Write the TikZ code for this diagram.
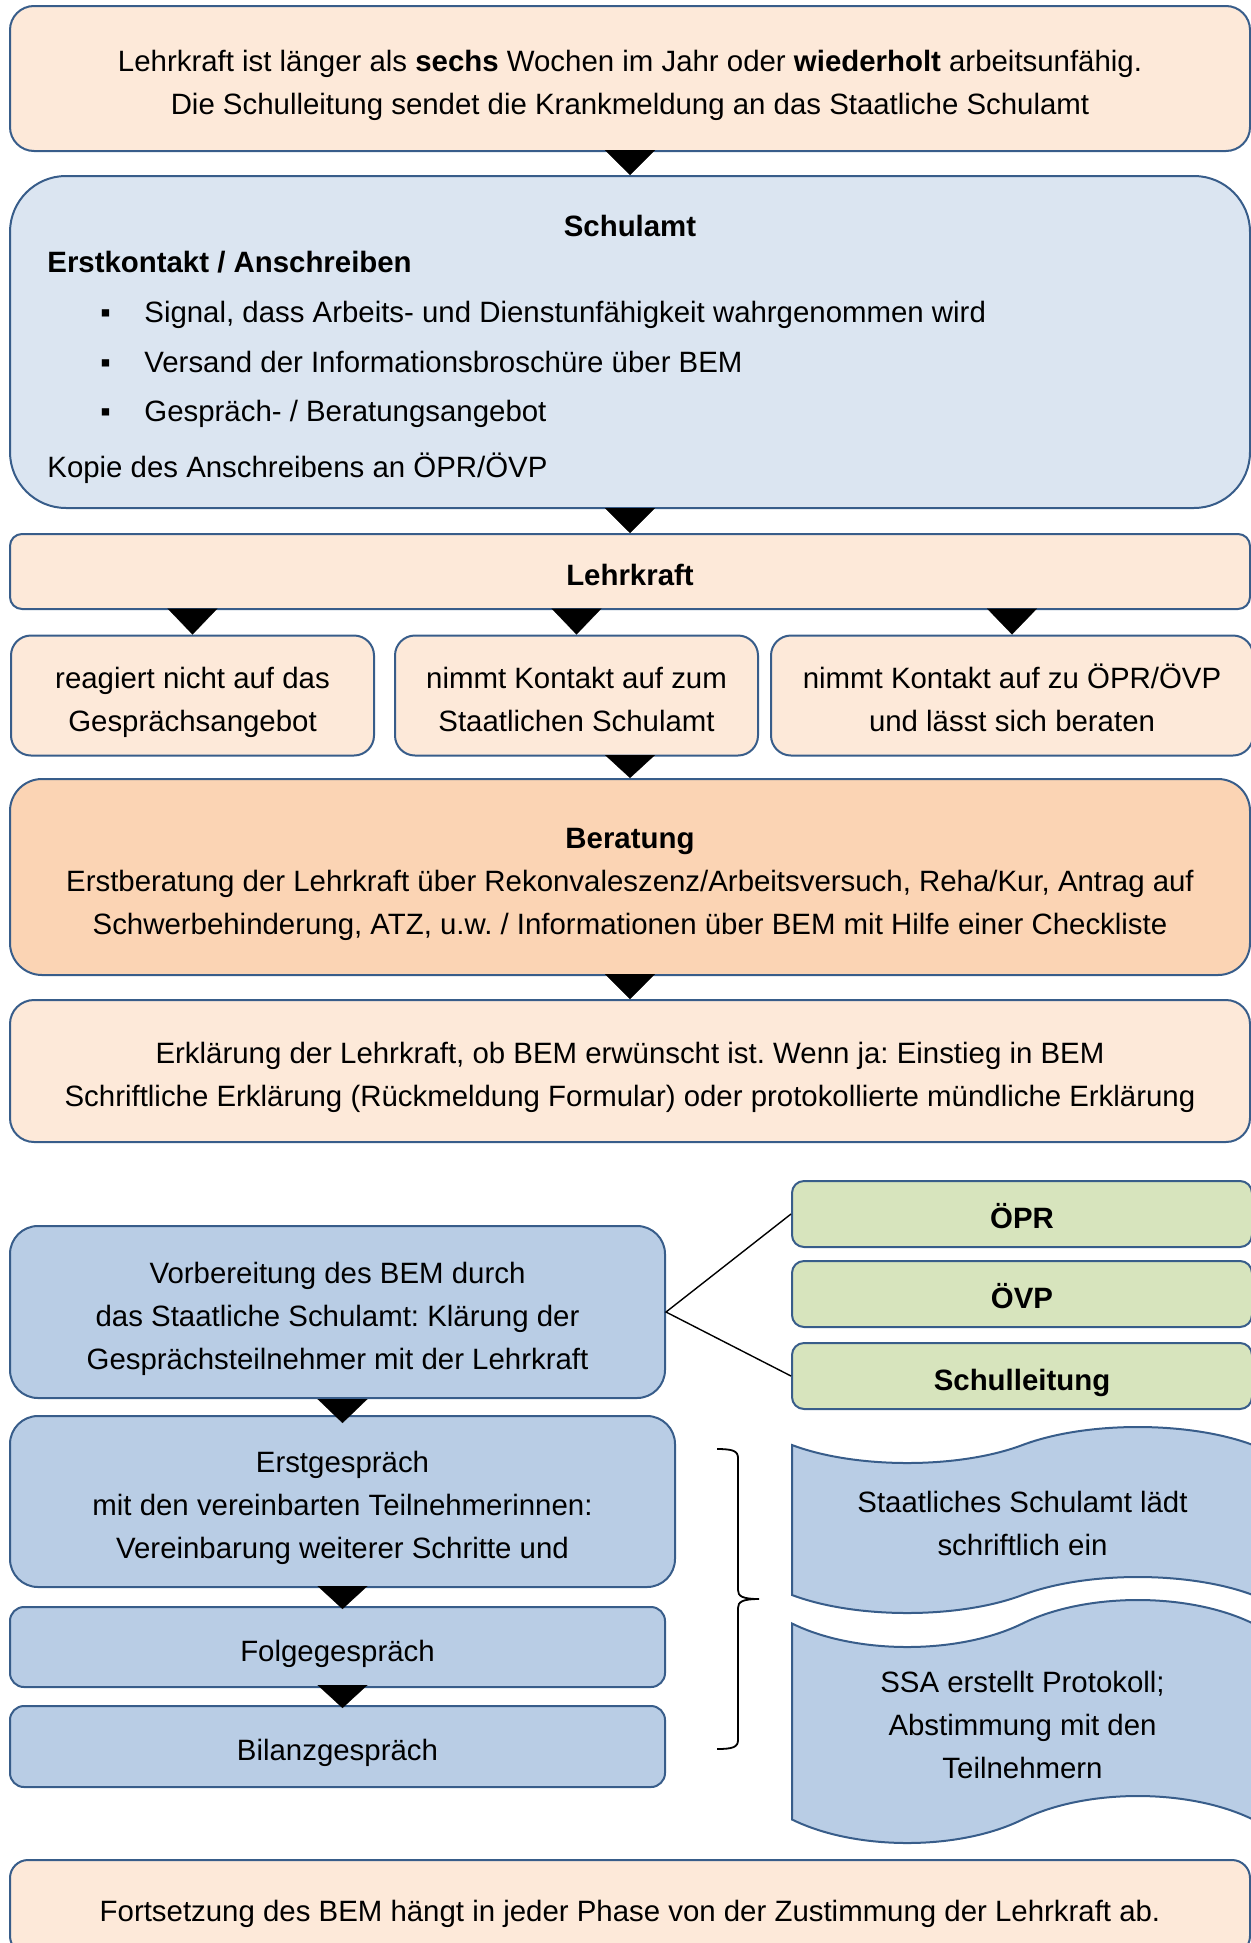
\documentclass[tikz,border=0pt]{standalone}
\usepackage{fontspec}
\setmainfont{Liberation Sans}
\usetikzlibrary{arrows.meta,shapes.symbols}

\definecolor{peach}{HTML}{FDE9D9}
\definecolor{apricot}{HTML}{FBD4B4}
\definecolor{paleblue}{HTML}{DBE5F1}
\definecolor{midblue}{HTML}{B9CDE5}
\definecolor{sage}{HTML}{D7E4BD}
\definecolor{edge}{HTML}{385D8A}

\begin{document}
\begin{tikzpicture}[x=0.5pt, y=-0.5pt,
    font=\fontsize{14.7}{21.5}\selectfont\frenchspacing,
    lines/.style={align=flush center, inner sep=0pt,
                  execute at begin node={\rule{0pt}{17.5pt}},
                  execute at end node={\rule[-3.3pt]{0pt}{3.3pt}}},
    box/.style={draw=edge, line width=1pt, lines, rounded corners=#1},
    box/.default=12pt,
    tri/.style={-{Triangle[width=25pt,length=#1]}, line width=0.1pt},
    tri/.default=12.5pt,
    flag/.style={tape, draw=edge, line width=1pt, fill=midblue, lines, text width=230.5pt,
                 tape bend top=in and out, tape bend bottom=in and out},
    txt/.style={inner sep=0pt, anchor=base west}]
    \useasboundingbox (0,0) rectangle (1251,1943);

    % Meldung
    \node (meldung) [box, fill=peach, text width=620pt, minimum height=72.5pt] at (630,78.5)
        {Lehrkraft ist länger als \textbf{sechs} Wochen im Jahr oder \textbf{wiederholt} arbeitsunfähig.\\
         Die Schulleitung sendet die Krankmeldung an das Staatliche Schulamt};

    % Schulamt
    \node (schulamt) [box=28pt, fill=paleblue, minimum width=620pt, minimum height=166pt] at (630,342) {};
    \node (sahead) [inner sep=0pt, anchor=base] at (630,236) {\textbf{Schulamt}};
    \node (sasub) [txt] at (47,272) {\textbf{Erstkontakt / Anschreiben}};
    \node (bul1) [txt] at (100,322) {▪};
    \node (sa1) [txt] at (144,322) {Signal, dass Arbeits- und Dienstunfähigkeit wahrgenommen wird};
    \node (bul2) [txt] at (100,372) {▪};
    \node (sa2) [txt] at (144,372) {Versand der Informationsbroschüre über BEM};
    \node (bul3) [txt] at (100,421) {▪};
    \node (sa3) [txt] at (144,421) {Gespräch- / Beratungsangebot};
    \node (kopie) [txt] at (47,477) {Kopie des Anschreibens an ÖPR/ÖVP};

    % Lehrkraft
    \node (lehrkraft) [box=6pt, fill=peach, text width=620pt, minimum height=37.5pt] at (630,571.5) {\textbf{Lehrkraft}};
    \node (reagiert) [box=10pt, fill=peach, text width=181.5pt, minimum height=60pt] at (192.5,695.5)
        {reagiert nicht auf das\\Gesprächsangebot};
    \node (kontaktssa) [box=10pt, fill=peach, text width=181.5pt, minimum height=60pt] at (576.5,695.5)
        {nimmt Kontakt auf zum\\Staatlichen Schulamt};
    \node (kontaktpr) [box=10pt, fill=peach, text width=241pt, minimum height=60pt] at (1012,695.5)
        {nimmt Kontakt auf zu ÖPR/ÖVP\\und lässt sich beraten};

    % Beratung
    \node (beratung) [box=16pt, fill=apricot, text width=620pt, minimum height=98pt] at (630,877)
        {\textbf{Beratung}\\
         Erstberatung der Lehrkraft über Rekonvaleszenz/Arbeitsversuch, Reha/Kur, Antrag auf\\
         Schwerbehinderung, ATZ, u.w. / Informationen über BEM mit Hilfe einer Checkliste};
    \node (erklaerung) [box, fill=peach, text width=620pt, minimum height=71pt] at (630,1071)
        {Erklärung der Lehrkraft, ob BEM erwünscht ist. Wenn ja: Einstieg in BEM\\
         Schriftliche Erklärung (Rückmeldung Formular) oder protokollierte mündliche Erklärung};

    % BEM
    \node (vorb) [box=14pt, fill=midblue, text width=327.5pt, minimum height=86pt] at (337.5,1312)
        {Vorbereitung des BEM durch\\das Staatliche Schulamt: Klärung der\\Gesprächsteilnehmer mit der Lehrkraft};
    \node (opr) [box=6pt, fill=sage, text width=230pt, minimum height=33pt] at (1022,1214) {\textbf{ÖPR}};
    \node (ovp) [box=6pt, fill=sage, text width=230pt, minimum height=33pt] at (1022,1294) {\textbf{ÖVP}};
    \node (sl) [box=6pt, fill=sage, text width=230pt, minimum height=33pt] at (1022,1376) {\textbf{Schulleitung}};
    \node (erst) [box=14pt, fill=midblue, text width=332.5pt, minimum height=85.5pt] at (342.5,1501.5)
        {Erstgespräch\\mit den vereinbarten Teilnehmerinnen:\\Vereinbarung weiterer Schritte und};
    \node (folge) [box=7pt, fill=midblue, text width=327.5pt, minimum height=40pt] at (337.5,1647) {Folgegespräch};
    \node (bilanz) [box=7pt, fill=midblue, text width=327.5pt, minimum height=40.5pt] at (337.5,1746.5) {Bilanzgespräch};
    \node (einladung) [flag, minimum height=93pt, tape bend height=18pt] at (1022.5,1520)
        {Staatliches Schulamt lädt\\schriftlich ein};
    \node (protokoll) [flag, minimum height=121.5pt, tape bend height=23.5pt] at (1022.5,1721.5)
        {SSA erstellt Protokoll;\\Abstimmung mit den\\Teilnehmern};
    \node (fortsetzung) [box=9pt, fill=peach, text width=620pt, minimum height=47pt] at (630,1907)
        {Fortsetzung des BEM hängt in jeder Phase von der Zustimmung der Lehrkraft ab.};

    % Pfeile
    \draw[tri] (meldung) -- (schulamt);
    \draw[tri] (schulamt) -- (lehrkraft);
    \draw[tri=13pt] (lehrkraft.south -| reagiert.north) -- (reagiert.north);
    \draw[tri=13pt] (lehrkraft.south -| kontaktssa.north) -- (kontaktssa.north);
    \draw[tri=13pt] (lehrkraft.south -| kontaktpr.north) -- (kontaktpr.north);
    \draw[tri=11.5pt] (kontaktssa.south -| beratung.north) -- (beratung.north);
    \draw[tri] (beratung) -- (erklaerung);
    \draw[tri=12pt, shorten >=-4pt] (vorb.south -| erst.north) -- (erst.north);
    \draw[tri=11.5pt, shorten >=-1.5pt] (erst.south) -- (folge.north -| erst.south);
    \draw[tri=11.5pt, shorten >=-1.5pt] (folge.south -| erst.south) -- (bilanz.north -| erst.south);

    \draw[line width=0.7pt] (opr.west) -- (vorb.east) -- (sl.west);
    % Klammer
    \draw[line width=0.9pt] (717,1449) .. controls (733,1449) and (738,1451) .. (738,1458)
        -- (738,1590) .. controls (738,1596) and (742,1599) .. (759,1599)
        .. controls (742,1599) and (738,1602) .. (738,1608)
        -- (738,1740) .. controls (738,1747) and (733,1749) .. (717,1749);
\end{tikzpicture}
\end{document}
